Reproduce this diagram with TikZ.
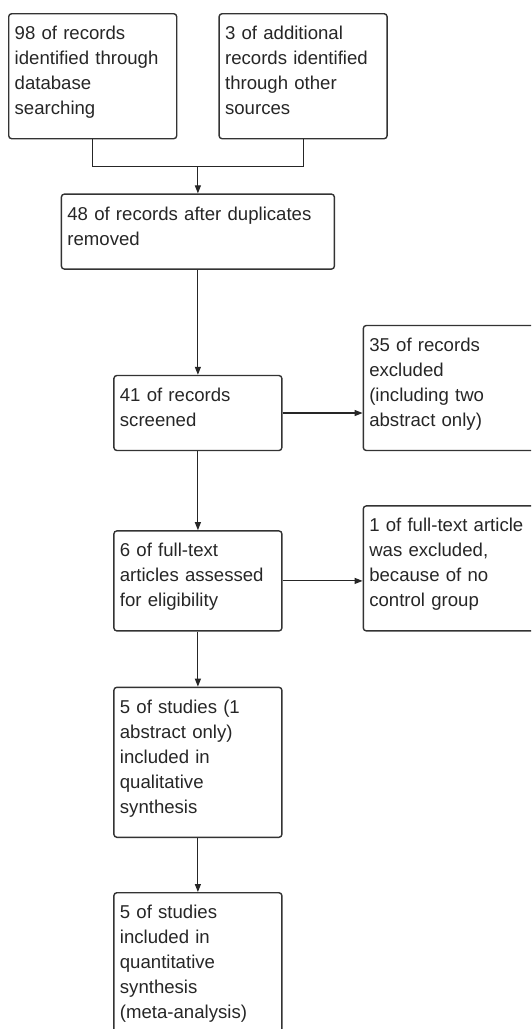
\documentclass[tikz,border=0pt]{standalone}
\usepackage{fontspec}
\setmainfont{Liberation Sans}
\usetikzlibrary{positioning,calc,arrows.meta}
\begin{document}
\begin{tikzpicture}[
    x=1pt, y=-1pt,
    node distance=54pt,
    recbox/.style={rectangle, draw=black!80, line width=1.4pt, rounded corners=3pt,
        align=left, text width=#1, inner xsep=6pt, inner ysep=0pt,
        text height=26pt, text=black!85,
        execute at end node={\rule[-24pt]{0pt}{24pt}},
        font=\fontsize{18.6pt}{25pt}\selectfont},
    recbox/.default=156pt,
    arrow/.style={-{Triangle[length=8pt,width=6pt]}, line width=1.1pt, draw=black!85},
    link/.style={line width=1.1pt, draw=black!85}
]
\clip (0,0) rectangle (531,1029);

% Identification
\node[recbox, anchor=north west] (ident) at (8,13) {98 of records\\identified through\\database\\searching};
\node[recbox, right=41pt of ident] (other) {3 of additional\\records identified\\through other\\sources};
\coordinate (join) at ($(ident.south)!0.5!(other.south) + (0,27)$);

% Screening
\node[recbox=261pt, below=27pt of join] (dup) {48 of records after duplicates\\removed};
\node[recbox, below=105pt of dup] (screen) {41 of records\\screened};
\node[recbox=180pt, right=80pt of screen.south east, anchor=south west] (excl) {35 of records\\excluded\\(including two\\abstract only)};

% Eligibility
\node[recbox, below=79pt of screen] (full) {6 of full-text\\articles assessed\\for eligibility};
\node[recbox=180pt, right=80pt of full.south east, anchor=south west] (noctrl) {1 of full-text article\\was excluded,\\because of no\\control group};

% Included
\node[recbox, below=55pt of full] (qual) {5 of studies (1\\abstract only)\\included in\\qualitative\\synthesis};
\node[recbox, below=54pt of qual] (quant) {5 of studies\\included in\\quantitative\\synthesis\\(meta-analysis)};

% Arrows
\draw[link] (ident.south) |- (join) -| (other.south);
\draw[arrow] (join) -- (dup);
\draw[arrow] (dup) -- (screen);
\draw[arrow] (screen.east) -- (screen.east -| excl.west);
\draw[arrow] (screen) -- (full);
\draw[arrow] (full.east) -- (full.east -| noctrl.west);
\draw[arrow] (full) -- (qual);
\draw[arrow] (qual) -- (quant);

\end{tikzpicture}
\end{document}
